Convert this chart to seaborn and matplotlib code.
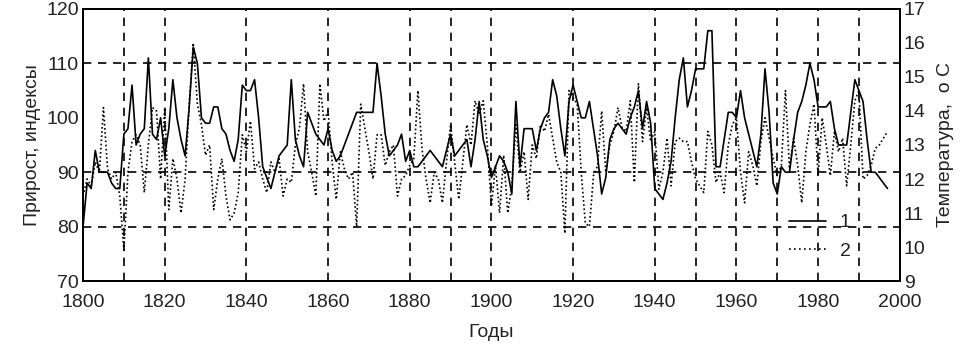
import numpy as np
import pandas as pd
import matplotlib
matplotlib.use('Agg')
import matplotlib.pyplot as plt
from matplotlib.lines import Line2D
import seaborn as sns

# годы 1800-1997
years = list(range(1800, 1998))

# 1 - прирост, индексы (левая ось)
growth = [80, 88, 87, 94, 90, 90, 90, 88, 87, 87,
          97, 98, 106, 95, 97, 98, 111, 97, 96, 100,
          93, 98, 107, 100, 96, 93, 102, 113, 110, 100,
          99, 99, 102, 102, 98, 97, 94, 92, 96, 106,
          105, 105, 107, 100, 91, 89, 87, 90, 93, 94,
          95, 107, 96, 93, 91, 101, 99, 97, 96, 95,
          98, 94, 92, 93, 95, 97, 99, 101, 101, 101,
          101, 101, 110, 104, 97, 93, 94, 95, 97, 92,
          94, 91, 91, 92, 93, 94, 93, 92, 91, 94,
          97, 93, 94, 95, 96, 91, 96, 103, 96, 93,
          89, 91, 93, 92, 90, 86, 103, 91, 98, 98,
          98, 94, 98, 100, 101, 107, 104, 98, 93, 103,
          106, 103, 100, 100, 103, 98, 93, 86, 89, 96,
          98, 99, 98, 97, 100, 102, 105, 98, 103, 99,
          87, 86, 85, 88, 92, 100, 107, 111, 102, 105,
          109, 109, 109, 116, 116, 91, 91, 96, 101, 101,
          100, 105, 100, 97, 94, 91, 97, 109, 101, 88,
          86, 91, 90, 90, 96, 101, 103, 106, 110, 107,
          102, 102, 102, 103, 98, 95, 95, 95, 101, 107,
          105, 103, 96, 90, 90, 89, 88, 87]

# 2 - температура, о С (правая ось)
temp = [11.5, 12.0, 11.8, 12.5, 12.2, 14.1, 12.3, 12.0, 12.2, 11.5,
        9.9, 12.2, 13.1, 13.3, 13.0, 11.6, 13.0, 14.1, 14.0, 12.0,
        14.1, 11.1, 12.6, 12.0, 11.0, 12.0, 14.2, 16.0, 14.2, 13.6,
        12.7, 13.0, 11.1, 12.0, 12.6, 11.5, 10.8, 11.0, 11.6, 13.3,
        12.8, 13.7, 12.3, 12.5, 12.0, 11.6, 12.5, 12.2, 12.6, 11.5,
        12.0, 11.9, 13.0, 13.5, 14.8, 12.8, 12.2, 11.5, 14.8, 13.7,
        14.0, 12.5, 11.4, 12.8, 12.3, 12.0, 12.2, 10.6, 14.2, 13.5,
        12.8, 12.0, 13.3, 13.3, 12.4, 12.8, 13.0, 11.5, 12.0, 12.1,
        12.4, 12.6, 14.6, 12.9, 12.0, 11.3, 12.2, 12.0, 11.3, 12.5,
        13.6, 12.5, 11.4, 12.5, 13.6, 13.0, 14.3, 13.9, 14.3, 13.0,
        11.2, 12.4, 11.0, 12.7, 11.0, 11.8, 13.6, 12.2, 12.8, 11.4,
        13.0, 12.6, 13.6, 13.4, 13.9, 13.2, 12.5, 12.2, 10.4, 14.6,
        14.4, 14.2, 12.2, 10.7, 10.6, 12.1, 12.4, 14.0, 12.2, 13.0,
        13.4, 14.1, 13.5, 13.4, 14.3, 11.9, 14.8, 13.1, 14.1, 13.1,
        13.4, 11.7, 12.2, 13.2, 11.8, 13.1, 13.2, 13.1, 13.1, 12.5,
        12.0, 11.8, 11.6, 13.4, 13.0, 11.9, 12.2, 11.6, 13.0, 13.6,
        13.8, 12.2, 11.3, 12.8, 12.4, 11.8, 13.1, 13.8, 13.2, 12.6,
        12.1, 12.4, 14.6, 12.3, 13.2, 12.4, 11.3, 12.8, 13.6, 14.2,
        12.1, 13.8, 13.0, 12.1, 13.4, 12.8, 13.2, 11.8, 13.0, 14.3,
        14.6, 12.0, 12.1, 12.4, 12.9, 13.0, 13.2, 13.4]

x_ticks = list(range(1800, 2001, 20))
left_ticks = [70, 80, 90, 100, 110, 120]
right_ticks = list(range(9, 18))
vgrid = [1810, 1820, 1840, 1860, 1880, 1890, 1900, 1920, 1940, 1950, 1960, 1970, 1980, 1990]
hgrid = [80, 90, 110]

df = pd.DataFrame({'year': years, 'growth': growth, 'temp': temp})

sns.set_style('white')
plt.rcParams['font.family'] = ['Liberation Sans', 'DejaVu Sans']
plt.rcParams['text.color'] = '#222222'
fs = 14

fig = plt.figure(figsize=(9.7, 3.44), dpi=100)
ax = fig.add_axes([0.0856, 0.183, 0.842, 0.791])
ax2 = ax.twinx()

# сетка (пунктир)
for g in vgrid:
    ax.axvline(g, color='black', lw=1.2, ls=(0, (5, 4)), zorder=1)
for g in hgrid:
    ax.axhline(g, color='black', lw=1.2, ls=(0, (5, 4)), zorder=1)

sns.lineplot(data=df, x='year', y='growth', ax=ax, color='black', lw=1.2, zorder=3)
sns.lineplot(data=df, x='year', y='temp', ax=ax2, color='black', lw=1.2,
             linestyle=(0, (1, 1.5)), zorder=3)

ax.set_xlim(1800, 2000)
ax.set_ylim(70, 120)
ax2.set_ylim(9, 17)
ax.set_xticks(x_ticks)
ax.set_yticks(left_ticks)
ax2.set_yticks(right_ticks)

ax.set_xlabel('Годы', fontsize=fs, color='#222222', labelpad=10)
ax.set_ylabel('Прирост, индексы', fontsize=fs, color='#222222', labelpad=4)
ax2.set_ylabel('Температура,  о С', fontsize=fs, color='#222222', labelpad=8)

ax.tick_params(axis='x', length=0, labelsize=fs, labelcolor='#222222', pad=9)
ax.tick_params(axis='y', length=0, labelsize=fs, labelcolor='#222222', pad=3)
ax2.tick_params(axis='y', length=0, labelsize=fs, labelcolor='#222222', pad=3)
for a in (ax, ax2):
    for s in a.spines.values():
        s.set_color('black')
        s.set_linewidth(1.4)

handles = [Line2D([], [], color='black', lw=1.2),
           Line2D([], [], color='black', lw=1.2, linestyle=(0, (1, 2)))]
ax2.legend(handles, ['1', '2'], frameon=False, loc='center left',
           bbox_to_anchor=(0.843, 0.163), handlelength=1.9, handletextpad=0.7,
           labelspacing=0.55, fontsize=fs)

fig.savefig('out.png', dpi=100)
